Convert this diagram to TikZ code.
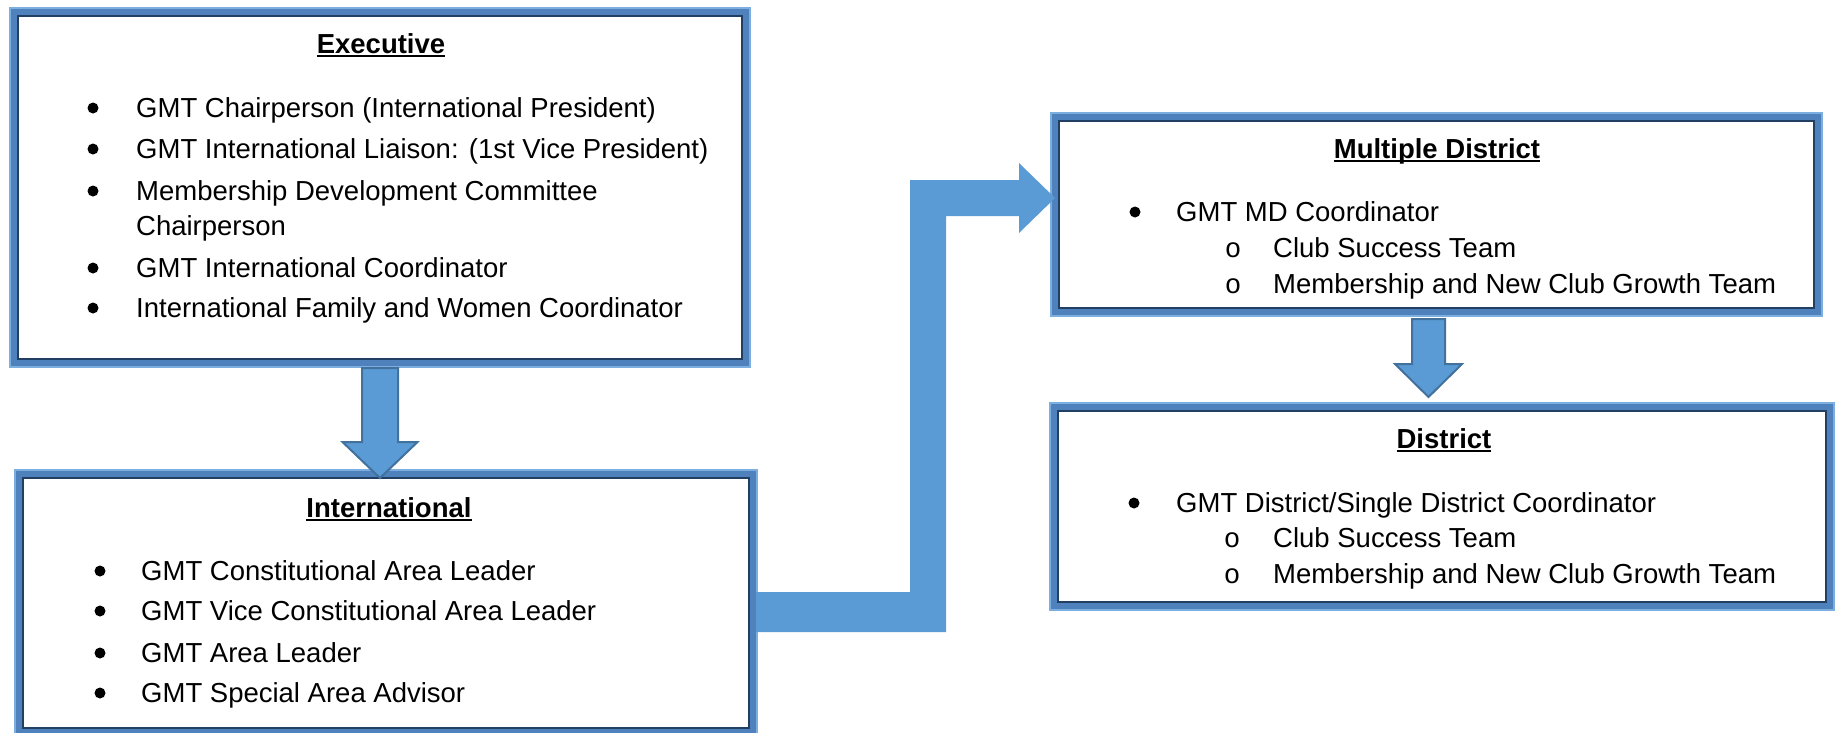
\documentclass[tikz,border=0pt]{standalone}
\usepackage{fontspec}
\setmainfont{Liberation Sans}
\setmonofont{Liberation Mono}
\usepackage{xcolor}
\usepackage{tikz}
\usetikzlibrary{calc}

\definecolor{arrowfill}{HTML}{5B9BD5}
\definecolor{arrowedge}{HTML}{41719C}
\definecolor{framemid}{HTML}{4F81BD}
\definecolor{framedark}{HTML}{213F63}
\definecolor{framelight}{HTML}{7DAEE0}

\newcommand{\ultitle}[1]{\setbox0\hbox{#1}\rlap{\rule[-4pt]{\wd0}{2pt}}\box0}

\tikzset{
  panel/.style={draw=framemid, line width=10pt, fill=white, inner sep=0pt, outer sep=0pt},
  body/.style={font=\fontsize{27.5}{33}\selectfont, anchor=base west, inner sep=0pt},
  title/.style={font=\fontsize{27.5}{33}\selectfont\bfseries, anchor=base, inner sep=0pt},
  subdot/.style={font=\fontsize{27.5}{33}\selectfont\ttfamily, anchor=base, inner sep=0pt},
  dot/.style={circle, fill=black, minimum size=11pt, inner sep=0pt},
  blockarrow/.style={fill=arrowfill, draw=arrowedge, line width=2pt, line join=miter}
}

\begin{document}
\begin{tikzpicture}[x=1pt, y=-1pt]
  \useasboundingbox (0,0) rectangle (1839,732);
  % the four boxes
  \node[panel, minimum width=732pt, minimum height=351pt] (exec) at (380,187.5) {};
  \node[panel, minimum width=734pt, minimum height=258pt] (intl) at (386,603) {};
  \node[panel, minimum width=763pt, minimum height=195pt] (md) at (1436.5,214.5) {};
  \node[panel, minimum width=776pt, minimum height=199pt] (dist) at (1442,506.5) {};
  \foreach \b in {exec, intl, md, dist} {
    \draw[framedark, line width=2pt] ([xshift=4pt,yshift=-4pt]\b.north west) rectangle ([xshift=-4pt,yshift=4pt]\b.south east);
    \draw[framelight, line width=1.5pt] ([xshift=-4pt,yshift=4pt]\b.north west) rectangle ([xshift=4pt,yshift=-4pt]\b.south east);
  }

  % arrows
  \coordinate (a1s) at ($(exec.south)+(0,5)$);
  \coordinate (a1t) at ($(exec.south |- intl.north)+(0,4)$);
  \draw[blockarrow] ($(a1s)+(-18,0)$) -- ($(a1s)+(18,0)$) -- ($(a1t)+(18,-36)$) -- ($(a1t)+(37.5,-36)$) -- (a1t)
    -- ($(a1t)+(-37.5,-36)$) -- ($(a1t)+(-18,-36)$) -- cycle;
  \coordinate (a2s) at ($(md.south)+(-8,7)$);
  \coordinate (a2t) at ($(a2s |- dist.north)+(0,-10)$);
  \draw[blockarrow] ($(a2s)+(-16.5,0)$) -- ($(a2s)+(16.5,0)$) -- ($(a2t)+(16.5,-33)$) -- ($(a2t)+(33.5,-33)$) -- (a2t)
    -- ($(a2t)+(-33.5,-33)$) -- ($(a2t)+(-16.5,-33)$) -- cycle;
  \coordinate (a3s) at ($(intl.east)+(3,9)$);
  \coordinate (a3k) at ($(a3s)+(172,0)$);
  \coordinate (a3t) at ($(md.west)+(0,-16.5)$);
  \fill[arrowfill] ($(a3s)+(0,-20)$) -- ($(a3k)+(-18,-20)$) -- ($(a3k |- a3t)+(-18,-18)$) -- ($(a3t)+(-36,-18)$)
    -- ($(a3t)+(-36,-35)$) -- (a3t) -- ($(a3t)+(-36,35)$) -- ($(a3t)+(-36,18)$) -- ($(a3k |- a3t)+(18,18)$)
    -- ($(a3k)+(18,20)$) -- ($(a3s)+(0,20)$) -- cycle;

  % Executive
  \node[title] (exectitle) at (381,53) {\ultitle{Executive}};
  \foreach \n/\y/\txt in {1/117/GMT Chairperson (International President),
      2/158/GMT International Liaison: (1st Vice President),
      3/200/Membership Development Committee,
      4/277/GMT International Coordinator,
      5/317/International Family and Women Coordinator} {
    \node[dot] (eb\n) at (93,\y-9) {};
    \node[body] (et\n) at (136,\y) {\txt};
  }
  \node[body] (et3b) at (136,235) {Chairperson};

  % International
  \node[title] (intltitle) at (389,517) {\ultitle{International}};
  \foreach \n/\y/\txt in {1/580/GMT Constitutional Area Leader,
      2/620/GMT Vice Constitutional Area Leader,
      3/662/GMT Area Leader,
      4/702/GMT Special Area Advisor} {
    \node[dot] (ib\n) at (100,\y-9) {};
    \node[body] (it\n) at (141,\y) {\txt};
  }

  % Multiple District
  \node[title] (mdtitle) at (1437,158) {\ultitle{Multiple District}};
  \node[dot] (mb1) at (1135,212) {};
  \node[body] (mt1) at (1176,221) {GMT MD Coordinator};
  \foreach \n/\y/\txt in {2/257/Club Success Team, 3/293/Membership and New Club Growth Team} {
    \node[subdot] (mb\n) at (1233,\y) {o};
    \node[body] (mt\n) at (1273,\y) {\txt};
  }

  % District
  \node[title] (disttitle) at (1444,448) {\ultitle{District}};
  \node[dot] (db1) at (1134,503) {};
  \node[body] (dt1) at (1176,512) {GMT District/Single District Coordinator};
  \foreach \n/\y/\txt in {2/547/Club Success Team, 3/583/Membership and New Club Growth Team} {
    \node[subdot] (db\n) at (1232,\y) {o};
    \node[body] (dt\n) at (1273,\y) {\txt};
  }
\end{tikzpicture}
\end{document}
